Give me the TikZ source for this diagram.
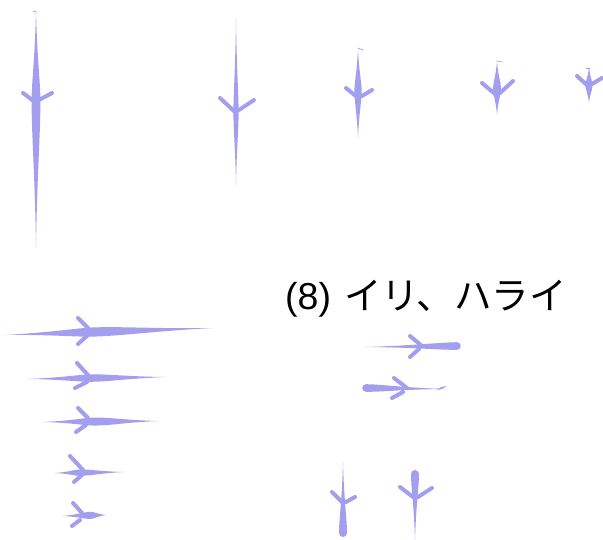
\documentclass[tikz,border=0pt]{standalone}
\usepackage{fontspec}
\newfontfamily\jpfont{Noto Sans CJK JP}
\newfontfamily\latfont{Liberation Sans}
\definecolor{ink}{RGB}{164,158,238}
\newcommand{\brush}[6]{%
  \pgfmathsetmacro{\bdx}{#3-#1}%
  \pgfmathsetmacro{\bdy}{#2-#4}%
  \pgfmathsetmacro{\bL}{veclen(\bdx,\bdy)}%
  \pgfmathsetmacro{\bA}{atan2(\bdy,\bdx)}%
  \pgfmathsetmacro{\bM}{#5*\bL}%
  \pgfmathsetmacro{\bR}{\bL-\bM}%
  \begin{scope}[shift={(#1,-#2)}, rotate=\bA]
    \fill[ink] (0,0) .. controls ({0.55*\bM},{0.25*#6}) and ({0.8*\bM},#6) .. (\bM,#6)
      .. controls ({\bM+0.25*\bR},#6) and ({\bM+0.5*\bR},{0.25*#6}) .. (\bL,0)
      .. controls ({\bM+0.5*\bR},{-0.25*#6}) and ({\bM+0.25*\bR},-#6) .. (\bM,-#6)
      .. controls ({0.8*\bM},-#6) and ({0.55*\bM},{-0.25*#6}) .. cycle;
  \end{scope}}
\tikzset{arm/.style={draw=ink, line width=4pt, line cap=round},
  tick/.style={draw=ink, line width=0.7pt, line cap=round},
  title/.style={anchor=base west, font=\jpfont\fontsize{37.5}{40}\selectfont, inner sep=0pt}}
\begin{document}
\begin{tikzpicture}[x=1pt,y=1pt]
\useasboundingbox (0,0) rectangle (603,-539);
% top row: vertical strokes
\brush{36}{10}{36}{247}{0.38}{4.4}
\draw[arm] (23,-93) -- (35,-102); \draw[arm] (52,-93) -- (39,-100);
\draw[tick] (33,-11) -- (36,-12);
\brush{236}{19}{236}{185}{0.56}{2.6}
\draw[arm] (220,-98) -- (235,-112); \draw[arm] (254,-100) -- (239,-110);
\brush{358}{48}{358}{138}{0.47}{3.6}
\draw[arm] (346,-88) -- (357,-97); \draw[arm] (372,-90) -- (362,-96);
\draw[tick] (358,-48) -- (363,-50);
\brush{497}{61}{497}{115}{0.5}{4}
\draw[arm] (482,-83) -- (495,-94); \draw[arm] (513,-81) -- (500,-93);
\draw[tick] (497,-61) -- (502,-62);
\brush{589}{67}{589}{103}{0.5}{3.6}
\draw[arm] (577,-76) -- (587,-85); \draw[arm] (602,-78) -- (592,-84);
\draw[tick] (586,-68) -- (590,-68);
% left column: horizontal strokes
\brush{5}{335}{213}{328}{0.43}{4.6}
\draw[arm] (78,-318) -- (89,-329); \draw[arm] (78,-344) -- (88,-335);
\brush{28}{379}{166}{377}{0.46}{3.7}
\draw[arm] (77,-363) -- (88,-375); \draw[arm] (75,-388) -- (87,-382);
\brush{43}{422}{159}{421}{0.45}{4}
\draw[arm] (78,-408) -- (88,-418); \draw[arm] (76,-432) -- (86,-425);
\brush{55}{473}{124}{472}{0.36}{3.2}
\draw[arm] (70,-456) -- (83,-470); \draw[arm] (74,-482) -- (82,-475);
\brush{62}{516}{106}{515}{0.64}{3.6}
\draw[arm] (73,-503) -- (82,-513); \draw[arm] (72,-526) -- (80,-520);
% title
\node[title] (t8) at (285,-309) {{\latfont(8)}\hspace{13pt}イリ、ハライ};
% middle strokes
\brush{365}{347}{457}{346}{1}{3.8}
\fill[ink] (457,-346) circle (3.8);
\draw[arm] (410,-336) -- (422,-346); \draw[arm] (410,-357) -- (419,-349);
\brush{445}{389}{366}{388}{1}{3.8}
\fill[ink] (366,-388) circle (3.8);
\brush{436}{390}{447}{386}{0.5}{1.1}
\draw[arm] (394,-378) -- (407,-388); \draw[arm] (392,-398) -- (403,-392);
% bottom vertical strokes
\brush{343}{462}{343}{533}{1}{4}
\fill[ink] (343,-533) circle (4);
\draw[arm] (332,-492) -- (343,-503); \draw[arm] (355,-497) -- (346,-502);
\brush{415}{541}{415}{474}{1}{4}
\fill[ink] (415,-474) circle (4);
\draw[arm] (400,-487) -- (413,-497); \draw[arm] (432,-488) -- (418,-497);
\end{tikzpicture}
\end{document}
